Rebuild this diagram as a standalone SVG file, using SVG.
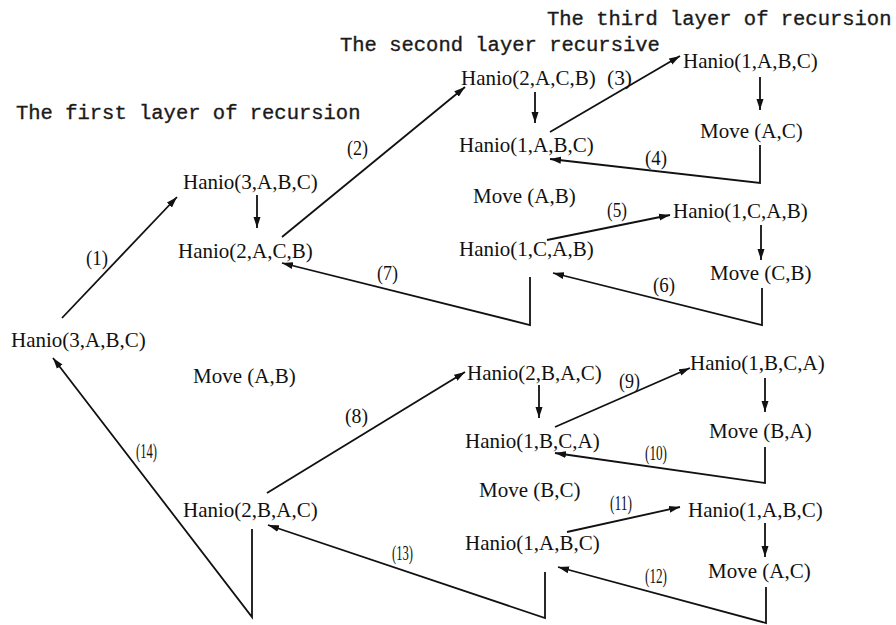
<svg xmlns="http://www.w3.org/2000/svg" width="896" height="625" viewBox="0 0 896 625">
<style>
.h{font-family:"Liberation Mono","DejaVu Sans Mono",monospace;font-size:20.5px;fill:#1a1a1a;stroke:#1a1a1a;stroke-width:0.35}
.n{font-family:"Liberation Serif","Times New Roman",serif;font-size:21px;fill:#111}
.l{font-family:"Liberation Serif","Times New Roman",serif;font-size:20.5px;fill:#111}
.c{fill:none;stroke:#111;stroke-width:1.8}
</style>
<defs>
<marker id="ah" markerUnits="userSpaceOnUse" markerWidth="12" markerHeight="8" refX="11" refY="4" orient="auto">
<path d="M0,0.5 L11,4 L0,7.5 z" fill="#111"/>
</marker>
</defs>
<rect width="896" height="625" fill="#fff"/>
<g id="headings">
<text class="h" x="547" y="25">The third layer of recursion</text>
<text class="h" x="340" y="51">The second layer recursive</text>
<text class="h" x="16" y="119">The first layer of recursion</text>
</g>
<g id="connectors">
<line class="c" x1="62" y1="318" x2="177" y2="197" marker-end="url(#ah)"/>
<line class="c" x1="257" y1="195" x2="257" y2="228" marker-end="url(#ah)"/>
<line class="c" x1="282" y1="237" x2="465" y2="87" marker-end="url(#ah)"/>
<line class="c" x1="535" y1="92" x2="535" y2="123" marker-end="url(#ah)"/>
<line class="c" x1="550" y1="132" x2="680" y2="56" marker-end="url(#ah)"/>
<line class="c" x1="760" y1="77" x2="760" y2="110" marker-end="url(#ah)"/>
<polyline class="c" points="760,145 760,183 550,159" marker-end="url(#ah)"/>
<line class="c" x1="547" y1="240" x2="670" y2="215" marker-end="url(#ah)"/>
<line class="c" x1="761" y1="225" x2="761" y2="260" marker-end="url(#ah)"/>
<polyline class="c" points="762,288 762,325 553,273" marker-end="url(#ah)"/>
<polyline class="c" points="530,277 530,325 282,263" marker-end="url(#ah)"/>
<line class="c" x1="267" y1="493" x2="465" y2="372" marker-end="url(#ah)"/>
<line class="c" x1="539" y1="385" x2="539" y2="418" marker-end="url(#ah)"/>
<line class="c" x1="555" y1="427" x2="690" y2="368" marker-end="url(#ah)"/>
<line class="c" x1="765" y1="378" x2="765" y2="412" marker-end="url(#ah)"/>
<polyline class="c" points="765,447 765,483 555,453" marker-end="url(#ah)"/>
<line class="c" x1="567" y1="532" x2="680" y2="507" marker-end="url(#ah)"/>
<line class="c" x1="765" y1="523" x2="765" y2="557" marker-end="url(#ah)"/>
<polyline class="c" points="766,587 766,623 558,567" marker-end="url(#ah)"/>
<polyline class="c" points="545,572 545,618 268,525" marker-end="url(#ah)"/>
<polyline class="c" points="252,529 252,617 53,358" marker-end="url(#ah)"/>
</g>
<g id="edge-labels">
<text class="l" x="86" y="265" textLength="22" lengthAdjust="spacingAndGlyphs">(1)</text>
<text class="l" x="347" y="155" textLength="21" lengthAdjust="spacingAndGlyphs">(2)</text>
<text class="l" x="607" y="85" textLength="25" lengthAdjust="spacingAndGlyphs">(3)</text>
<text class="l" x="645" y="165" textLength="22" lengthAdjust="spacingAndGlyphs">(4)</text>
<text class="l" x="607" y="217" textLength="20" lengthAdjust="spacingAndGlyphs">(5)</text>
<text class="l" x="653" y="292" textLength="22" lengthAdjust="spacingAndGlyphs">(6)</text>
<text class="l" x="377" y="280" textLength="21" lengthAdjust="spacingAndGlyphs">(7)</text>
<text class="l" x="345" y="423" textLength="23" lengthAdjust="spacingAndGlyphs">(8)</text>
<text class="l" x="619" y="388" textLength="21" lengthAdjust="spacingAndGlyphs">(9)</text>
<text class="l" x="645" y="460" textLength="22" lengthAdjust="spacingAndGlyphs">(10)</text>
<text class="l" x="610" y="510" textLength="22" lengthAdjust="spacingAndGlyphs">(11)</text>
<text class="l" x="645" y="583" textLength="22" lengthAdjust="spacingAndGlyphs">(12)</text>
<text class="l" x="392" y="560" textLength="21" lengthAdjust="spacingAndGlyphs">(13)</text>
<text class="l" x="136" y="458" textLength="21" lengthAdjust="spacingAndGlyphs">(14)</text>
</g>
<g id="n-root"><text class="n" x="11" y="347">Hanio(3,A,B,C)</text></g>
<g id="n-l1-top"><text class="n" x="183" y="189">Hanio(3,A,B,C)</text></g>
<g id="n-l1-a"><text class="n" x="178" y="258">Hanio(2,A,C,B)</text></g>
<g id="n-l1-move"><text class="n" x="193" y="383">Move (A,B)</text></g>
<g id="n-l1-b"><text class="n" x="183" y="517">Hanio(2,B,A,C)</text></g>
<g id="n-l2-a"><text class="n" x="461" y="85">Hanio(2,A,C,B)</text></g>
<g id="n-l2-a1"><text class="n" x="459" y="152">Hanio(1,A,B,C)</text></g>
<g id="n-l2-amove"><text class="n" x="473" y="203">Move (A,B)</text></g>
<g id="n-l2-a2"><text class="n" x="459" y="256">Hanio(1,C,A,B)</text></g>
<g id="n-l2-b"><text class="n" x="467" y="380">Hanio(2,B,A,C)</text></g>
<g id="n-l2-b1"><text class="n" x="465" y="448">Hanio(1,B,C,A)</text></g>
<g id="n-l2-bmove"><text class="n" x="479" y="497">Move (B,C)</text></g>
<g id="n-l2-b2"><text class="n" x="465" y="550">Hanio(1,A,B,C)</text></g>
<g id="n-l3-1"><text class="n" x="683" y="68">Hanio(1,A,B,C)</text></g>
<g id="n-l3-1m"><text class="n" x="700" y="138">Move (A,C)</text></g>
<g id="n-l3-2"><text class="n" x="673" y="218">Hanio(1,C,A,B)</text></g>
<g id="n-l3-2m"><text class="n" x="710" y="280">Move (C,B)</text></g>
<g id="n-l3-3"><text class="n" x="690" y="370">Hanio(1,B,C,A)</text></g>
<g id="n-l3-3m"><text class="n" x="709" y="438">Move (B,A)</text></g>
<g id="n-l3-4"><text class="n" x="688" y="517">Hanio(1,A,B,C)</text></g>
<g id="n-l3-4m"><text class="n" x="708" y="578">Move (A,C)</text></g>
</svg>
